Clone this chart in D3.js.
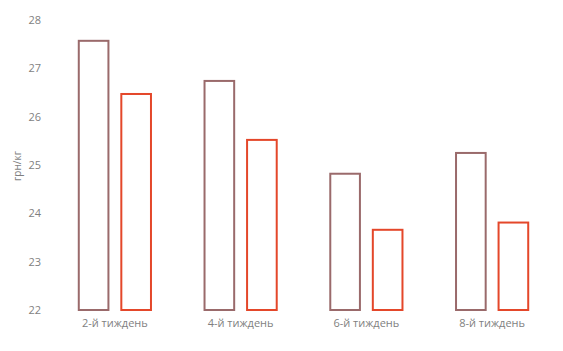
<!DOCTYPE html>
<html>
<head>
<meta charset="utf-8">
<script src="https://cdn.jsdelivr.net/npm/d3@7"></script>
<style>
  body { margin: 0; background: #fff; }
  text { font-family: "Open Sans", "Noto Sans", sans-serif; fill: #7f7f7f; }
</style>
</head>
<body>
<script>
// data
const weeks = ["2-й тиждень", "4-й тиждень", "6-й тиждень", "8-й тиждень"];
const seriesA = [27.59, 26.76, 24.84, 25.27];
const seriesB = [26.49, 25.54, 23.68, 23.83];
const yTicks = [22, 23, 24, 25, 26, 27, 28];
const colors = ["#9a6a6b", "#e4472a"];

const width = 563, height = 351;

const svg = d3.select("body")
    .append("svg")
    .attr("width", width)
    .attr("height", height);

// scales
const x0 = d3.scaleBand()
    .domain(weeks)
    .range([52, 555])
    .paddingInner(0.41)
    .paddingOuter(0.205);

const x1 = d3.scaleBand()
    .domain([0, 1])
    .range([0, x0.bandwidth()])
    .paddingInner(0.256);

const y = d3.scaleLinear()
    .domain([22, 28])
    .range([310, 20]);

// y axis
const yAxis = svg.append("g")
    .attr("transform", "translate(44,0)")
    .call(d3.axisLeft(y).tickValues(yTicks).tickFormat(d3.format("d")).tickSize(0).tickPadding(3));
yAxis.select(".domain").remove();
yAxis.selectAll("text").style("font-size", "11px").attr("fill", "#7f7f7f");

// x axis
const xAxis = svg.append("g")
    .attr("transform", "translate(0,316)")
    .call(d3.axisBottom(x0).tickSize(0).tickPadding(3));
xAxis.select(".domain").remove();
xAxis.selectAll("text").style("font-size", "11px").attr("fill", "#7f7f7f");

// bars
const rows = weeks.map((w, i) => ({week: w, vals: [seriesA[i], seriesB[i]]}));

const groups = svg.selectAll("g.grp")
    .data(rows)
    .join("g")
    .attr("class", "grp")
    .attr("transform", d => `translate(${x0(d.week)},0)`);

groups.selectAll("rect")
    .data(d => d.vals.map((v, k) => ({k, v})))
    .join("rect")
    .attr("x", d => x1(d.k) + 1)
    .attr("y", d => y(d.v) + 1)
    .attr("width", x1.bandwidth() - 2)
    .attr("height", d => y(22) - y(d.v) - 1)
    .attr("fill", "none")
    .attr("stroke", d => colors[d.k])
    .attr("stroke-width", 2);

// y label
svg.append("text")
    .attr("transform", "translate(21,166) rotate(-90)")
    .attr("text-anchor", "middle")
    .style("font-size", "10px")
    .text("грн/кг");
</script>
</body>
</html>
